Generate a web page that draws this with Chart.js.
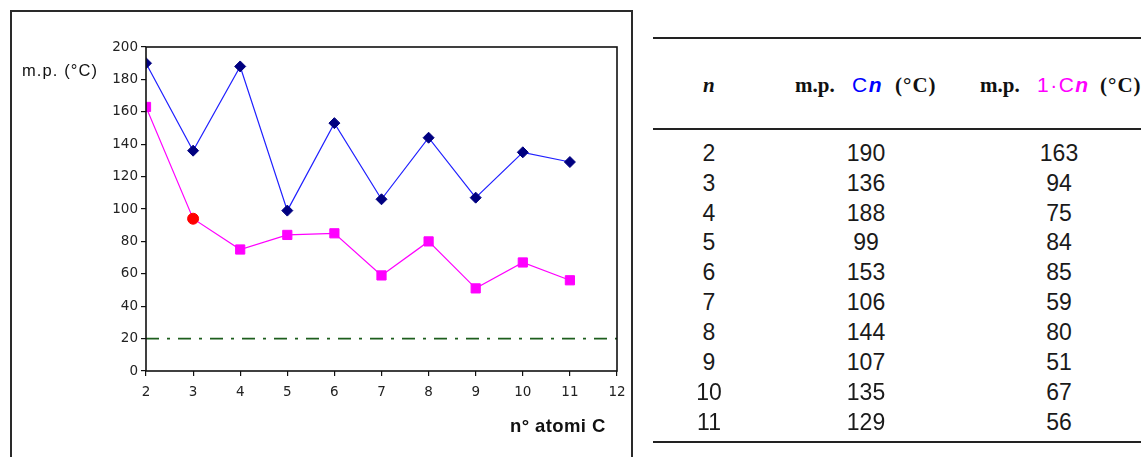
<!DOCTYPE html>
<html>
<head>
<meta charset="utf-8">
<script src="https://cdn.jsdelivr.net/npm/chart.js@4/dist/chart.umd.min.js"></script>
<style>
  html, body { margin: 0; padding: 0; background: #fff; }
  #page { position: relative; width: 1141px; height: 457px; overflow: hidden; }
  #frame { position: absolute; left: 10px; top: 10px; width: 623px; height: 480px;
           border: 2px solid #2a2a2a; box-sizing: border-box; }
  #chartBox { position: absolute; left: 0; top: 0; width: 640px; height: 457px; }
  .txt { position: absolute; white-space: nowrap; color: #111; }
  .axisTitle { font-family: "Liberation Sans", Arial, sans-serif; }
  .rule { position: absolute; left: 653px; width: 488px; height: 2px; background: #222; }
  .hp { position: absolute; top: 85px; transform: translateY(-50%); white-space: nowrap;
        font-size: 21px; line-height: 26px; color: #111; }
  .serifB { font-family: "Liberation Serif", "Times New Roman", serif; font-weight: bold; }
  .sans { font-family: "Liberation Sans", Arial, sans-serif; letter-spacing: 1.5px; }
  .cell { position: absolute; transform: translate(-50%, -50%); font-family: "Liberation Sans", Arial, sans-serif;
          font-size: 23px; line-height: 26px; color: #1a1a1a; white-space: nowrap; }
</style>
</head>
<body>
<div id="page">
  <div id="frame"></div>
  <div id="chartBox"><canvas id="mp" width="640" height="457"></canvas></div>
  <div class="txt axisTitle" style="left:22px; top:61px; font-size:16.5px; letter-spacing:1.1px;">m.p. (°C)</div>
  <div class="txt axisTitle" style="left:510px; top:415px; font-size:18.5px; font-weight:bold; letter-spacing:0.4px;">n° atomi C</div>

  <div class="rule" style="top:37px;"></div>
  <div class="rule" style="top:128px;"></div>
  <div class="rule" style="top:441px;"></div>

  <!-- table header -->
  <div class="hp serifB" style="left:703px;"><i>n</i></div>
  <div class="hp serifB" style="left:795px;">m.p.</div>
  <div class="hp sans" style="left:852px; color:#0000ff;">C<b><i>n</i></b></div>
  <div class="hp serifB" style="left:895px; letter-spacing:1px;">(°C)</div>
  <div class="hp serifB" style="left:980px;">m.p.</div>
  <div class="hp sans" style="left:1037px; color:#ff00ff;">1·C<b><i>n</i></b></div>
  <div class="hp serifB" style="left:1100px; letter-spacing:1px;">(°C)</div>
  <div id="rows"></div>
</div>

<script>
// Melting points of the n-alkane series Cn and of the 1-substituted series 1·Cn
const nAtoms = [2, 3, 4, 5, 6, 7, 8, 9, 10, 11];
const mpCn   = [190, 136, 188, 99, 153, 106, 144, 107, 135, 129];
const mp1Cn  = [163, 94, 75, 84, 85, 59, 80, 51, 67, 56];
const roomTemp = 20;            // dash-dot reference level (°C)
const xTicks = [2, 3, 4, 5, 6, 7, 8, 9, 10, 11, 12];
const yTicks = [0, 20, 40, 60, 80, 100, 120, 140, 160, 180, 200];
const highlightIndex = 1;       // n = 3 is marked in red

// table rows built from the same arrays
const rows = document.getElementById('rows');
const colX = [709, 866, 1059];
nAtoms.forEach((n, i) => {
  const y = 152.7 + i * 29.9;
  [n, mpCn[i], mp1Cn[i]].forEach((v, c) => {
    const d = document.createElement('div');
    d.className = 'cell';
    d.style.left = colX[c] + 'px';
    d.style.top = y + 'px';
    d.textContent = v;
    rows.appendChild(d);
  });
});

Chart.defaults.font.family = '"DejaVu Sans", "Liberation Sans", sans-serif';
Chart.defaults.color = '#222';

const pts = (ys) => nAtoms.map((x, i) => ({ x: x, y: ys[i] }));

const plotFrame = {
  id: 'plotFrame',
  afterDatasetsDraw(chart) {
    const a = chart.chartArea, ctx = chart.ctx;
    ctx.save();
    ctx.strokeStyle = '#111';
    ctx.lineWidth = 1.6;
    ctx.strokeRect(a.left, a.top, a.right - a.left, a.bottom - a.top);
    ctx.restore();
  }
};

new Chart(document.getElementById('mp'), {
  type: 'line',
  data: {
    datasets: [
      {
        label: 'T = 20 °C',
        data: [{ x: xTicks[0], y: roomTemp }, { x: xTicks[xTicks.length - 1], y: roomTemp }],
        borderColor: '#1d5e1d',
        borderWidth: 1.6,
        borderDash: [13, 8, 3, 8],
        pointRadius: 0,
        order: 3
      },
      {
        label: 'm.p. 1·Cn',
        data: pts(mp1Cn),
        borderColor: '#ff00ff',
        borderWidth: 1.2,
        pointStyle: mp1Cn.map((_, i) => i === highlightIndex ? 'circle' : 'rect'),
        pointRadius: mp1Cn.map((_, i) => i === highlightIndex ? 5.5 : 6.5),
        pointBackgroundColor: mp1Cn.map((_, i) => i === highlightIndex ? '#ff0000' : '#ff00ff'),
        pointBorderColor: mp1Cn.map((_, i) => i === highlightIndex ? '#ff0000' : '#ff00ff'),
        pointBorderWidth: 1,
        order: 2
      },
      {
        label: 'm.p. Cn',
        data: pts(mpCn),
        borderColor: '#2020ff',
        borderWidth: 1.2,
        pointStyle: 'rectRot',
        pointRadius: 5.5,
        pointBackgroundColor: '#000080',
        pointBorderColor: '#000080',
        pointBorderWidth: 1,
        order: 1
      }
    ]
  },
  options: {
    responsive: false,
    animation: false,
    layout: { padding: { left: 100, top: 47, right: 23, bottom: 46 } },
    plugins: { legend: { display: false }, tooltip: { enabled: false } },
    scales: {
      x: {
        type: 'linear',
        min: xTicks[0],
        max: xTicks[xTicks.length - 1],
        afterBuildTicks: (s) => { s.ticks = xTicks.map(v => ({ value: v })); },
        afterFit: (s) => { s.height = 40; },
        border: { display: false },
        grid: { drawOnChartArea: false, drawTicks: true, tickLength: 5, color: '#111', lineWidth: 1.2 },
        ticks: { padding: 8, font: { size: 13.5 }, color: '#222', maxRotation: 0, autoSkip: false }
      },
      y: {
        min: yTicks[0],
        max: yTicks[yTicks.length - 1],
        afterBuildTicks: (s) => { s.ticks = yTicks.map(v => ({ value: v })); },
        afterFit: (s) => { s.width = 46; },
        border: { display: false },
        grid: { drawOnChartArea: false, drawTicks: true, tickLength: 5, color: '#111', lineWidth: 1.2 },
        ticks: { padding: 3, font: { size: 13.5 }, color: '#222' }
      }
    }
  },
  plugins: [plotFrame]
});
</script>
</body>
</html>
